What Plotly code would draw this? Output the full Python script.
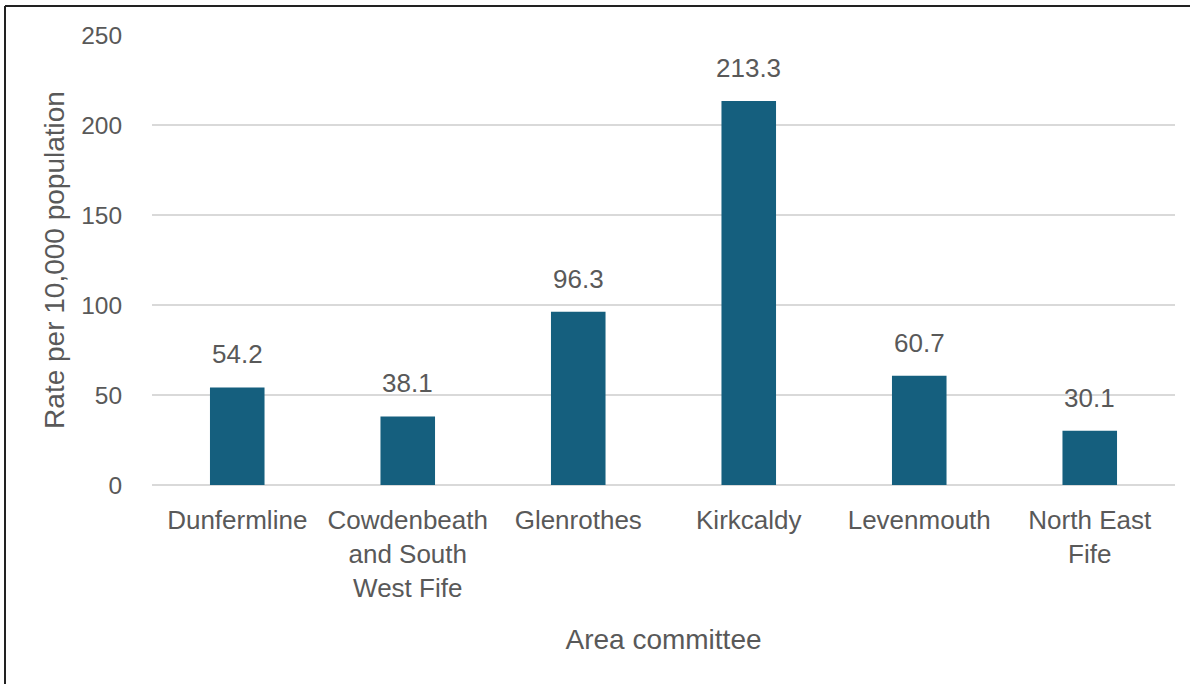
import plotly.graph_objects as go

categories = ["Dunfermline", "Cowdenbeath<br>and South<br>West Fife", "Glenrothes", "Kirkcaldy", "Levenmouth", "North East<br>Fife"]
values = [54.2, 38.1, 96.3, 213.3, 60.7, 30.1]
value_labels = ["54.2", "38.1", "96.3", "213.3", "60.7", "30.1"]
y_ticks = [0, 50, 100, 150, 200, 250]

FONT = "Liberation Sans, Arial, sans-serif"
GREY = "#595959"
BAR = "#155F7E"

fig = go.Figure()
fig.add_trace(go.Bar(x=categories, y=values, marker=dict(color=BAR, line=dict(width=0)),
                     hoverinfo="skip"))

annotations = []
for c, v, t in zip(categories, values, value_labels):
    annotations.append(dict(x=c, y=v, xref="x", yref="y", text=t, showarrow=False,
                            yanchor="bottom", yshift=16,
                            font=dict(family=FONT, size=26, color=GREY)))

L, R, T, B = 152, 15, 35, 199
W, H = 1190, 684
pw, ph = W - L - R, H - T - B
bx = (5 - L) / pw
by = (H - B - 6) / ph

fig.update_layout(
    width=W, height=H,
    margin=dict(l=L, r=R, t=T, b=B),
    paper_bgcolor="white", plot_bgcolor="white",
    bargap=0.68,
    showlegend=False,
    font=dict(family=FONT, color=GREY),
    annotations=annotations,
    shapes=[
        dict(type="line", xref="paper", yref="paper", x0=bx, x1=1.5, y0=by, y1=by,
             line=dict(color="#222222", width=2)),
        dict(type="line", xref="paper", yref="paper", x0=bx, x1=bx, y0=by, y1=-1,
             line=dict(color="#222222", width=2)),
    ],
    xaxis=dict(
        title=dict(text="Area committee", font=dict(family=FONT, size=28, color=GREY), standoff=27),
        tickfont=dict(family=FONT, size=26, color=GREY),
        ticks="outside", ticklen=12, tickcolor="rgba(0,0,0,0)",
        showline=False, showgrid=False, zeroline=False,
    ),
    yaxis=dict(
        title=dict(text="Rate per 10,000 population", font=dict(family=FONT, size=28, color=GREY), standoff=8),
        tickfont=dict(family=FONT, size=24.5, color=GREY),
        range=[0, 250], tickvals=y_ticks, ticktext=[str(v) for v in y_ticks],
        ticks="outside", ticklen=24, tickcolor="rgba(0,0,0,0)",
        showgrid=True, gridcolor="#D9D9D9", gridwidth=2,
        zeroline=True, zerolinecolor="#D9D9D9", zerolinewidth=2,
        showline=False,
    ),
)

fig.write_html("out.html", config={"displayModeBar": False},
               post_script="document.body.style.margin='0';")
